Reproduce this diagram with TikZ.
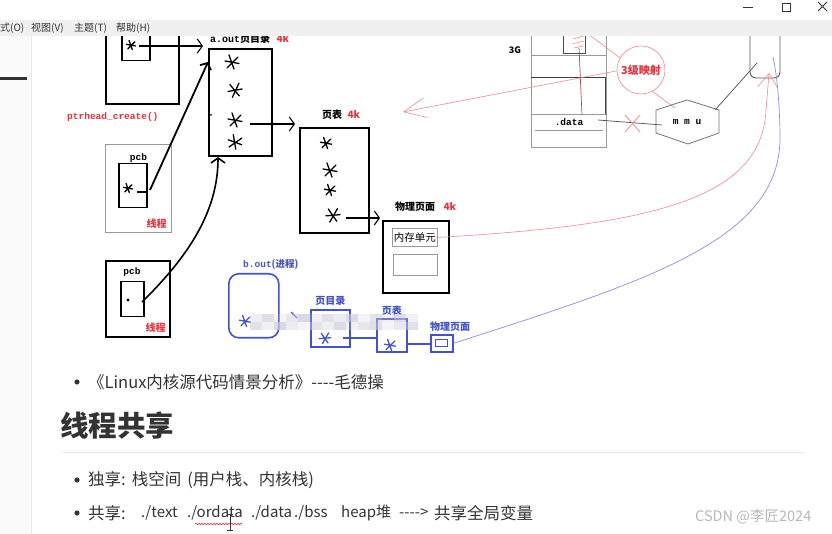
\documentclass[tikz,border=0pt]{standalone}
\usepackage{fontspec}
\setmainfont{Noto Sans CJK SC}
\setmonofont{Liberation Mono}
\usetikzlibrary{arrows.meta, positioning, decorations.pathmorphing}
\definecolor{inkred}{HTML}{E8323C}
\definecolor{inkblue}{HTML}{4453C8}
\definecolor{linered}{HTML}{F08A8A}
\definecolor{darkred}{HTML}{B04848}
\definecolor{lineblue}{HTML}{8A90DE}
\definecolor{menugray}{HTML}{F0F0F0}
\definecolor{framegray}{HTML}{9A9A9A}
\definecolor{textgray}{HTML}{333333}
\definecolor{mosaic}{HTML}{C8CAD8}
\tikzset{
  frame/.style={draw=black, line width=1.8pt, inner sep=0pt, anchor=north west},
  thinframe/.style={draw=framegray, line width=0.8pt, inner sep=0pt, anchor=north west},
  cellbox/.style={draw=framegray, line width=0.9pt, inner sep=0pt, anchor=north west},
  bluebox/.style={draw=inkblue, line width=1.6pt, inner sep=0pt, anchor=north west},
  lbl/.style={inner sep=0pt, font=\bfseries\fontsize{10}{12}\selectfont},
  redlbl/.style={lbl, text=inkred},
  bluelbl/.style={lbl, text=inkblue},
  codelbl/.style={inner sep=0pt, font=\ttfamily\bfseries\fontsize{9.5}{11}\selectfont},
  flow/.style={-{Straight Barb[length=5pt,width=14pt]}, line width=1.1pt},
  bigflow/.style={-{Straight Barb[length=5pt,width=12pt]}, line width=1.8pt},
  redthin/.style={draw=linered, line width=0.6pt},
  blueline/.style={draw=inkblue, line width=1.2pt},
  body/.style={inner sep=0pt, anchor=west, font=\fontsize{16.5}{19}\selectfont, text=textgray},
  latin/.style={body, font=\fontsize{15}{18}\selectfont},
  menu/.style={inner sep=0pt, anchor=west, font=\fontsize{10}{12}\selectfont, text=textgray},
  scrawl/.pic={\draw[line width=1.3pt, line cap=round]
    (-7,-1) -- (7,1.5) (-3,-7) -- (2,7) (-5,6) -- (6,-5);},
}
\begin{document}
\begin{tikzpicture}[x=1pt, y=-1pt]
  \useasboundingbox (0,0) rectangle (832,534);
  \fill[white] (0,0) rectangle (832,534);
  % side bar
  \fill[black!2] (0,36) rectangle (31,534);
  \draw[black!8, line width=1pt] (31.5,36) -- (31.5,534);
  \fill[black!80] (0,77) rectangle (27,80);

  % a.out: thread, page directory, page table, page
  \node[frame, minimum width=73pt, minimum height=83pt] (tlbox) at (105,20) {};
  \node[frame, line width=1.5pt, minimum width=28pt, minimum height=40pt] (tlpcb) at (121,20) {};
  \pic[scale=0.65] at (131,45) {scrawl};
  \node[frame, minimum width=63pt, minimum height=107pt] (pgd) at (208,48) {};
  \node[lbl, anchor=west] (pgdlbl) at (210,39) {{\ttfamily a.out}页目录};
  \node[redlbl, right=6pt of pgdlbl] {4k};
  \pic at (232,62) {scrawl};
  \pic[rotate=20] at (235,90) {scrawl};
  \pic at (235,120) {scrawl};
  \pic[rotate=-10] at (235,142) {scrawl};
  \fill (211,115) circle (1pt);
  \coordinate (tls) at (139,46);
  \draw[flow] (tls) -- ([xshift=-5pt]tls -| pgd.west);

  \node[codelbl, text=inkred, anchor=west] (create) at (67,117) {ptrhead\_create()};

  \node[thinframe, minimum width=66pt, minimum height=88pt] (thr1) at (105,144) {};
  \node[codelbl, below=9pt of thr1.north] {pcb};
  \node[frame, line width=1.5pt, minimum width=28pt, minimum height=44pt] (pcb1) at (118,163) {};
  \pic[scale=0.65] at (128,188) {scrawl};
  \draw[line width=1.1pt] (137,192) -- (148,192);
  \draw[bigflow] (150,190) -- (pgd.north west |- 0,62);
  \node[redlbl, anchor=south east] at ([shift={(-5pt,4pt)}]thr1.south east) {线程};

  \node[frame, minimum width=64pt, minimum height=76pt] (thr2) at (105,260) {};
  \node[codelbl, anchor=center] at (132,272) {pcb};
  \node[frame, line width=1.5pt, minimum width=23pt, minimum height=35pt] (pcb2) at (120,281) {};
  \fill (128,300) circle (1.6pt);
  \draw[flow, line width=1.6pt] (142,302) .. controls (190,255) and (218,210) .. (218,157);
  \node[redlbl, anchor=south east] at ([shift={(-5pt,5pt)}]thr2.south east) {线程};

  \node[frame, minimum width=69pt, minimum height=105pt] (pte) at (299,127) {};
  \node[lbl, anchor=west] (ptelbl) at (322,115) {页表};
  \node[redlbl, right=5pt of ptelbl] {4k};
  \pic[scale=0.8] at (326,143) {scrawl};
  \pic at (330,170) {scrawl};
  \pic[scale=0.8] at (330,190) {scrawl};
  \pic[rotate=15] at (333,215) {scrawl};
  \coordinate (pgds) at (250,124);
  \draw[flow] (pgds) -- ([xshift=-4pt]pgds -| pte.west);

  \node[frame, minimum width=66pt, minimum height=72pt] (phys) at (382,220) {};
  \node[lbl, anchor=west] (physlbl) at (395,207) {物理页面};
  \node[redlbl, right=8pt of physlbl] {4k};
  \node[cellbox, minimum width=45pt, minimum height=18pt, font=\fontsize{10.5}{12}\selectfont] (cell) at (392,228) {内存单元};
  \node[cellbox, minimum width=44pt, minimum height=21pt] (cell2) at (393,254) {};
  \coordinate (ptes) at (346,218);
  \draw[flow] (ptes) -- ([xshift=-2pt]ptes -| phys.west);

  % memory layout and mmu
  \node[thinframe, minimum width=75pt, minimum height=127pt] (mem) at (531,20) {};
  \node[thinframe, draw=black!70, minimum width=22pt, minimum height=33pt] (memtop) at (563,20) {};
  \draw[framegray, line width=0.8pt] (531,55) -- (606,55) (531,114) -- (606,114) (535,130) -- (603,130);
  \draw[black!75, line width=0.8pt] (531,77) -- (605,77) -- (605,114);
  \node[codelbl, font=\bfseries\fontsize{9}{10}\selectfont] at (515,50) {3G};
  \node[codelbl] (data) at (569,122) {.data};
  \draw[redthin] (573,39) -- (584,36) (572,44) -- (584,41) (574,48) -- (583,46);
  \draw[darkred, line width=0.7pt] (579,48) -- (582,115);

  \node[circle, draw=linered, line width=0.6pt, minimum size=48pt, inner sep=0pt,
        text=inkred, font=\bfseries\fontsize{11}{12}\selectfont] (map) at (641,70) {3级映射};
  \draw[redthin] (583,30) -- (map.150);
  \draw[redthin, -{Straight Barb[length=22pt,width=20pt]}] (map.182) -- (403,112);
  \draw[redthin] (map.-62) -- (675,108);

  \draw[black!55, line width=0.8pt] (656,110) -- (687,100) -- (719,110) -- (719,133)
    -- (688,144) -- (656,133) -- cycle;
  \node[codelbl] (mmu) at (687,122) {m m u};
  \draw[black!70, line width=0.7pt] (598,120) -- (662,125);
  \draw[redthin, line width=0.8pt] (625,115) -- (640,132) (640,115) -- (625,132);

  \draw[black!65, line width=0.9pt, rounded corners=6pt] (750,20) -- (750,78) -- (780,78) -- (780,20);
  \draw[black!70, line width=0.7pt] (715,110) -- (757,63);

  \draw[redthin, -{Straight Barb[length=14pt,width=20pt]}] (cell.east)
    .. controls (650,225) and (762,200) .. (766,110) -- (769,73);

  % b.out
  \node[bluelbl, anchor=west, font=\bfseries\fontsize{9.5}{11}\selectfont] at (243,264) {{\ttfamily b.out}(进程)};
  \node[bluebox, rounded corners=10pt, minimum width=50pt, minimum height=64pt] (bout) at (228,273) {};
  \node[bluebox, minimum width=39pt, minimum height=37pt] (bpgd) at (310,309) {};
  \node[bluelbl, above=3pt of bpgd] {页目录};
  \node[bluebox, minimum width=30pt, minimum height=33pt] (bpte) at (376,318) {};
  \node[bluelbl, above=2pt of bpte] {页表};
  \node[bluebox, minimum width=22pt, minimum height=17pt] (bphys) at (430,334) {};
  \node[bluelbl, anchor=west] at (430,327) {物理页面};
  \node[draw=inkblue, line width=0.9pt, inner sep=0pt, minimum width=12pt, minimum height=7pt] at (bphys) {};
  \begin{scope}[inkblue]
    \pic[scale=0.8] at (245,321) {scrawl};
    \pic[scale=0.8, rotate=15] at (325,338) {scrawl};
    \pic[scale=0.8] at (390,345) {scrawl};
  \end{scope}
  \coordinate (bs1) at (343,338);
  \draw[blueline] (bs1) -- (bs1 -| bpte.west);
  \coordinate (bs2) at (406,344);
  \draw[blueline] (bs2) -- (bs2 -| bphys.west);
  \draw[blueline] (291,312) -- (297,318);
  \draw[draw=lineblue, line width=0.7pt] (bphys.east)
    .. controls (650,280) and (778,240) .. (780,140)
    .. controls (780,100) and (776,70) .. (773,57);

  % pixel mosaic
  \foreach \x/\a/\b in {250/30/55, 262/60/25, 274/20/70, 286/45/35, 298/70/20,
      310/25/50, 322/55/30, 334/35/65, 346/65/25, 358/20/45, 370/50/60,
      382/30/20, 394/60/40, 406/25/55} {
    \fill[mosaic, opacity=0.\a] (\x,314) rectangle ++(12,8);
    \fill[mosaic, opacity=0.\b] (\x,322) rectangle ++(12,8);
  }

  % document text
  \fill[textgray] (77,382) circle (2.6pt) (77,480) circle (2.6pt) (77,513) circle (2.6pt);
  \node[body] (book) at (88,382) {《Linux内核源代码情景分析》-{}-{}-{}-毛德操};
  \node[body, font=\bfseries\fontsize{28.5}{32}\selectfont] (head) at (60,426) {线程共享};
  \draw[black!7, line width=1pt] (62,452) -- (805,452);
  \node[body] (own) at (88,480) {独享:\hspace{6pt}栈空间\hspace{6pt}(用户栈、内核栈)};
  \node[body] (share) at (88,513) {共享:};
  \node[latin] (stext) at (141,513) {./text};
  \node[latin] (sro) at (187,513) {./ordata};
  \node[latin] (sdata) at (251,513) {./data};
  \node[latin] (sbss) at (294,513) {./bss};
  \node[latin] (sheap) at (341,513) {heap堆};
  \node[latin] (sarrow) at (399,513) {-{}-{}-{}->};
  \node[body] (sglobal) at (434,513) {共享全局变量};
  \draw[inkred, line width=0.6pt, decorate, decoration={snake, amplitude=0.8pt, segment length=3pt}] (195,524) -- (242,524);
  \draw[black!80, line width=0.8pt] (230,514) -- (230,530) (227,514) -- (233,514) (227,530) -- (233,530);
  \node[body, text=black!28, font=\fontsize{14.5}{16}\selectfont] (mark) at (695,517) {CSDN @李匠2024};

  % window chrome
  \fill[white] (0,0) rectangle (832,20);
  \fill[menugray] (0,20) rectangle (832,36);
  \node[menu] at (0,28) {式(O)};
  \node[menu] at (31,28) {视图(V)};
  \node[menu] at (74,28) {主题(T)};
  \node[menu] at (116,28) {帮助(H)};
  \draw[textgray, line width=0.8pt] (743,7) -- (753,7);
  \draw[textgray, line width=0.8pt] (782,3) rectangle (790,11);
  \draw[textgray, line width=0.8pt] (818,2) -- (827,11) (827,2) -- (818,11);
\end{tikzpicture}
\end{document}
